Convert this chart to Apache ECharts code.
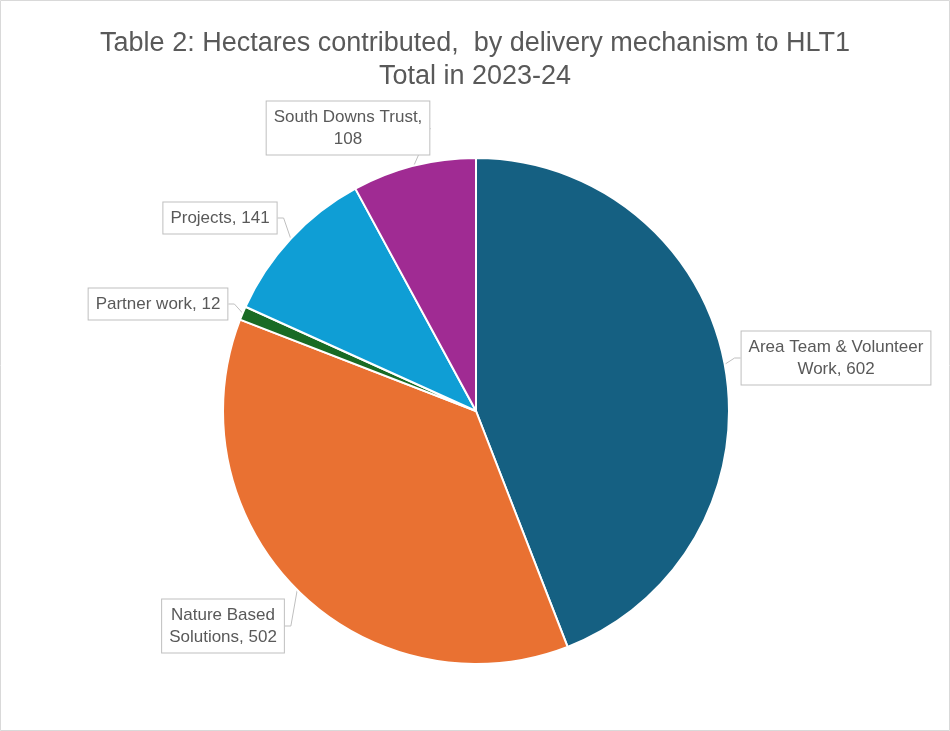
<!DOCTYPE html>
<html><head><meta charset="utf-8">
<script src="https://cdn.jsdelivr.net/npm/echarts@6/dist/echarts.min.js"></script>
<style>html,body{margin:0;padding:0;background:#fff}#c{width:950px;height:731px}</style>
</head><body><div id="c"></div>
<script>
const categories = ['Area Team & Volunteer\nWork', 'Nature Based\nSolutions', 'Partner work', 'Projects', 'South Downs Trust,\n'];
const values = [602, 502, 12, 141, 108];
const colors = ['#156082', '#E97132', '#196B24', '#0F9ED5', '#A02B93'];
const labelPos = [[836, 358], [223, 626], [158, 304], [220, 218], [348, 128]];

const chart = echarts.init(document.getElementById('c'));
chart.setOption({
  animation: false,
  title: {
    text: 'Table 2: Hectares contributed,  by delivery mechanism to HLT1',
    subtext: 'Total in 2023-24',
    left: 'center', top: 22, itemGap: 0,
    textStyle: { fontFamily: 'Liberation Sans', fontWeight: 'normal', fontSize: 27, color: '#595959', lineHeight: 33 },
    subtextStyle: { fontFamily: 'Liberation Sans', fontWeight: 'normal', fontSize: 27, color: '#595959', lineHeight: 33 }
  },
  graphic: [{ type: 'rect', shape: { x: 0.5, y: 0.5, width: 949, height: 730 }, style: { fill: 'none', stroke: '#d9d9d9', lineWidth: 1 } }],
  series: [{
    type: 'pie',
    center: [476, 411],
    radius: 253,
    startAngle: 90,
    clockwise: true,
    data: categories.map((c, i) => ({ name: c, value: values[i], itemStyle: { color: colors[i] } })),
    itemStyle: { borderColor: '#fff', borderWidth: 2 },
    label: {
      show: true,
      formatter: p => p.name.endsWith('\n') ? p.name + p.value : p.name + ', ' + p.value,
      fontFamily: 'Liberation Sans',
      fontSize: 17, color: '#595959', lineHeight: 22,
      backgroundColor: '#fff', borderColor: '#bfbfbf', borderWidth: 1,
      padding: [5, 7, 4, 7], align: 'center'
    },
    labelLine: { show: true, length: 8, length2: 6, lineStyle: { color: '#bfbfbf', width: 1 } },
    labelLayout: p => ({ x: labelPos[p.dataIndex][0], y: labelPos[p.dataIndex][1], align: 'center', verticalAlign: 'middle' })
  }]
});
</script></body></html>
